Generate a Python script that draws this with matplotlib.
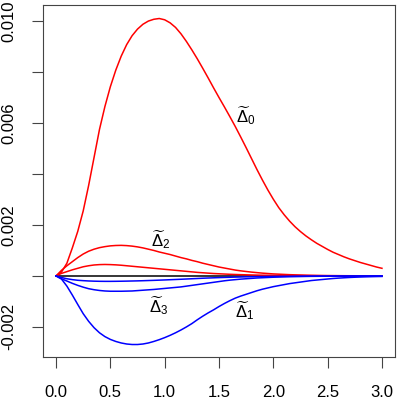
import matplotlib
matplotlib.use("Agg")
import matplotlib.pyplot as plt
import numpy as np

plt.rcParams['font.family'] = ['Liberation Sans', 'DejaVu Sans']
plt.rcParams['mathtext.fontset'] = 'custom'
plt.rcParams['mathtext.rm'] = 'Liberation Sans'
plt.rcParams['mathtext.it'] = 'Liberation Sans:italic'

# time grid, step 0.05; curve values are in units of 1e-3
t = np.round(np.arange(0, 3.001, 0.05), 2)

delta0 = [0, 0.15, 0.5, 1.1, 1.75, 2.55, 3.55, 4.65, 5.75, 6.65,
          7.425, 8.075, 8.625, 9.075, 9.425, 9.685, 9.875, 10.0, 10.07, 10.1,
          10.05, 9.93, 9.75, 9.5, 9.2, 8.87, 8.52, 8.15, 7.77, 7.38,
          7.0, 6.63, 6.25, 5.86, 5.45, 5.03, 4.6, 4.17, 3.76, 3.37,
          3.01, 2.68, 2.4, 2.15, 1.93, 1.74, 1.57, 1.42, 1.28, 1.16,
          1.04, 0.93, 0.84, 0.75, 0.67, 0.6, 0.53, 0.47, 0.41, 0.35,
          0.30]
delta2 = [0, 0.22, 0.40, 0.56, 0.72, 0.86, 0.97, 1.05, 1.11, 1.15,
          1.18, 1.195, 1.20, 1.19, 1.17, 1.14, 1.10, 1.05, 1.00, 0.94,
          0.89, 0.84, 0.78, 0.72, 0.67, 0.61, 0.56, 0.50, 0.45, 0.40,
          0.35, 0.31, 0.27, 0.23, 0.20, 0.175, 0.15, 0.13, 0.11, 0.095,
          0.08, 0.07, 0.06, 0.05, 0.043, 0.037, 0.031, 0.026, 0.022, 0.018,
          0.015, 0.013, 0.011, 0.009, 0.008, 0.007, 0.006, 0.005, 0.004, 0.004,
          0.003]
red_small = [0, 0.10, 0.17, 0.24, 0.30, 0.36, 0.40, 0.43, 0.445, 0.45,
             0.445, 0.435, 0.42, 0.40, 0.38, 0.36, 0.34, 0.32, 0.30, 0.28,
             0.26, 0.24, 0.22, 0.20, 0.18, 0.16, 0.14, 0.125, 0.11, 0.095,
             0.085, 0.075, 0.065, 0.057, 0.05, 0.044, 0.038, 0.033, 0.029, 0.025,
             0.022, 0.019, 0.016, 0.014, 0.012, 0.011, 0.009, 0.008, 0.007, 0.006,
             0.005, 0.005, 0.004, 0.004, 0.003, 0.003, 0.003, 0.002, 0.002, 0.002,
             0.002]
delta1 = [0, -0.12, -0.40, -0.75, -1.12, -1.48, -1.78, -2.03, -2.23, -2.38,
          -2.49, -2.57, -2.63, -2.67, -2.69, -2.69, -2.67, -2.63, -2.57, -2.50,
          -2.42, -2.33, -2.23, -2.12, -2.00, -1.87, -1.72, -1.58, -1.45, -1.33,
          -1.20, -1.08, -0.97, -0.87, -0.79, -0.72, -0.65, -0.58, -0.52, -0.47,
          -0.42, -0.38, -0.34, -0.30, -0.27, -0.24, -0.21, -0.18, -0.16, -0.14,
          -0.12, -0.10, -0.085, -0.072, -0.06, -0.05, -0.042, -0.035, -0.029, -0.024,
          -0.02]
delta3 = [0, -0.11, -0.20, -0.29, -0.37, -0.44, -0.50, -0.54, -0.57, -0.59,
          -0.60, -0.60, -0.60, -0.595, -0.59, -0.575, -0.56, -0.545, -0.53, -0.51,
          -0.49, -0.47, -0.45, -0.43, -0.40, -0.37, -0.34, -0.31, -0.28, -0.25,
          -0.22, -0.19, -0.165, -0.145, -0.125, -0.11, -0.095, -0.08, -0.07, -0.06,
          -0.05, -0.043, -0.037, -0.031, -0.027, -0.023, -0.019, -0.016, -0.014, -0.012,
          -0.01, -0.008, -0.007, -0.006, -0.005, -0.004, -0.004, -0.003, -0.003, -0.002,
          -0.002]
blue_small = [0, -0.06, -0.11, -0.145, -0.17, -0.185, -0.197, -0.205, -0.21, -0.212,
              -0.212, -0.21, -0.207, -0.203, -0.198, -0.193, -0.187, -0.18, -0.173, -0.165,
              -0.157, -0.148, -0.139, -0.13, -0.12, -0.11, -0.10, -0.09, -0.081, -0.073,
              -0.065, -0.058, -0.051, -0.045, -0.04, -0.035, -0.031, -0.027, -0.023, -0.02,
              -0.017, -0.015, -0.013, -0.011, -0.009, -0.008, -0.007, -0.006, -0.005, -0.004,
              -0.004, -0.003, -0.003, -0.002, -0.002, -0.002, -0.001, -0.001, -0.001, -0.001,
              -0.001]

labels = [r'$\widetilde{\Delta}_0$', r'$\widetilde{\Delta}_1$',
          r'$\widetilde{\Delta}_2$', r'$\widetilde{\Delta}_3$']
label_x = [1.75, 1.74, 0.96, 0.94]
label_y = [6.3, -1.37, 1.41, -1.18]

fig = plt.figure(figsize=(4.01, 4.01), dpi=100)
ax = fig.add_axes([43 / 401, 44 / 401, 352 / 401, 352 / 401])

s = 1e-3
ax.hlines(0, t[0], t[-1], color='black', lw=1.1)
for y in [delta0, delta2, red_small]:
    ax.plot(t, np.array(y) * s, color='#ff0000', lw=1.1)
for y in [delta1, delta3, blue_small]:
    ax.plot(t, np.array(y) * s, color='#0000ff', lw=1.1)

for lab, x, y in zip(labels, label_x, label_y):
    ax.text(x, y * s, lab, fontsize=12, ha='center', va='center')

ax.set_xlim(-0.12, 3.12)
ax.set_ylim(-3.18e-3, 10.63e-3)

ax.set_xticks(np.arange(0, 3.01, 0.5))
ax.set_xticklabels(['0.0', '0.5', '1.0', '1.5', '2.0', '2.5', '3.0'])
yt = np.arange(-0.002, 0.0101, 0.002)
ax.set_yticks(yt)
ax.set_yticklabels(['-0.002', '', '0.002', '', '0.006', '', '0.010'],
                   rotation=90, va='center')

for sp in ax.spines.values():
    sp.set_linewidth(0.8)
    sp.set_color('#444444')
ax.tick_params(length=8, width=0.8, color='#444444', labelsize=12)
ax.tick_params(axis='x', pad=12)
ax.tick_params(axis='y', pad=11)

fig.savefig('out.png', dpi=100)
